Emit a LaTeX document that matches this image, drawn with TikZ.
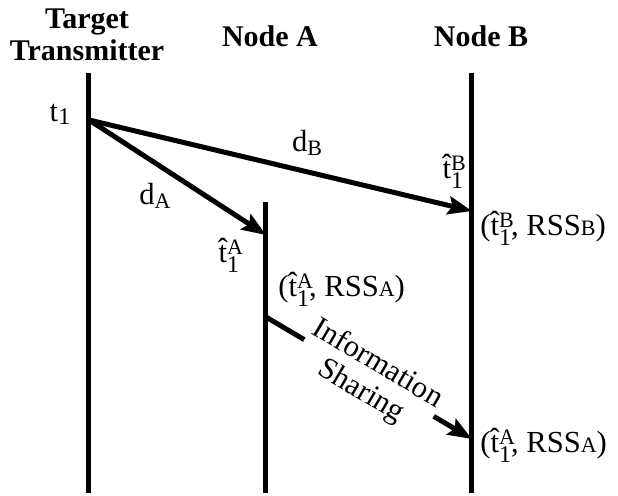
\documentclass[tikz,border=0pt]{standalone}
\usepackage{fontspec}
\setmainfont{Liberation Serif}
\usetikzlibrary{arrows.meta}

% kleine Schrift fuer Indizes
\newcommand{\idx}{\fontsize{11}{11}\selectfont}
% tiefgestellter Index
\newcommand{\low}[1]{\raisebox{-0.15em}{\idx #1}}
% geschaetzte Ankunftszeit: t-Dach mit Index 1 und Knoten oben
\newcommand{\tEst}[1]{\^{t}\rlap{\raisebox{0.24em}{\idx #1}}\raisebox{-0.32em}{\fontsize{12}{12}\selectfont 1}}

\begin{document}
\begin{tikzpicture}[x=0.5pt, y=-0.5pt,
    every node/.style={font=\fontsize{15.3}{16}\selectfont, inner sep=0pt},
    head/.style={font=\fontsize{15}{16}\selectfont\bfseries, align=center},
    timeline/.style={line width=2.5pt},
    msg/.style={line width=2.5pt, -{Stealth[length=12pt, width=9pt, inset=2pt]}}]
        \useasboundingbox (0,0) rectangle (618,496);

        % Zeitachsen
        \coordinate (T0) at (89,73);
        \coordinate (T1) at (89,493);
        \coordinate (A0) at (266,202);
        \coordinate (A1) at (266,493);
        \coordinate (B0) at (472,73);
        \coordinate (B1) at (472,493);

        % Ereignisse
        \coordinate (S)  at (89,120);   % Senden
        \coordinate (RA) at (266,235);  % Empfang A
        \coordinate (RB) at (472,211);  % Empfang B
        \coordinate (IA) at (266,317);  % Info von A
        \coordinate (IB) at (472,439);  % Info bei B

        % Titel
        \node[head] (hT) at (87,34.5) {Target\\Transmitter};
        \node[head] (hA) at (270,36) {Node A};
        \node[head] (hB) at (481,36) {Node B};

        \draw[timeline] (T0) -- (T1);
        \draw[timeline] (A0) -- (A1);
        \draw[timeline] (B0) -- (B1);

        % Signale
        \draw[msg] (S) -- (RB);
        \draw[msg] (S) -- (RA);
        \draw[msg] (IA) -- node[sloped, midway, fill=white, align=center, inner xsep=1pt]
            {Information\\Sharing} (IB);

        % Beschriftungen
        \node (lS)  at (60,114)  {t\raisebox{-0.1em}{\fontsize{12}{12}\selectfont 1}};
        \node (ldB) at (307,143) {d\low{B}};
        \node (ldA) at (155,196) {d\low{A}};
        \node (ltB) at (453,171) {\tEst{B}};
        \node (ltA) at (229,255) {\tEst{A}};
        \node[anchor=west] (lRB) at (480,228) {(\tEst{B}, RSS{\idx B})};
        \node[anchor=west] (lRA) at (278,289) {(\tEst{A}, RSS{\idx A})};
        \node[anchor=west] (lIB) at (480,445) {(\tEst{A}, RSS{\idx A})};
    \end{tikzpicture}
\end{document}
